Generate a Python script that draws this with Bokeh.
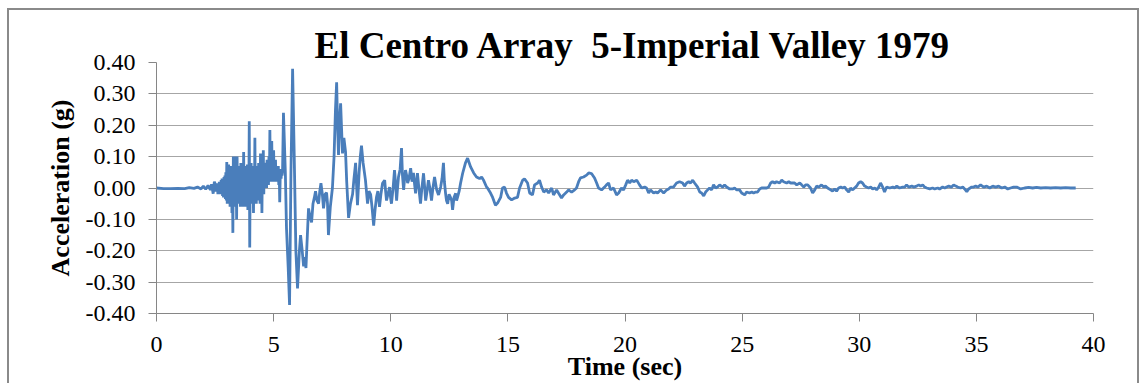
from bokeh.plotting import figure
from bokeh.models import FixedTicker, PrintfTickFormatter, Range1d
from bokeh.embed import file_html
from bokeh.resources import INLINE

# ---- data (time in s, acceleration in g) ----
t_quiet = [0.0, 0.3, 0.6, 0.9, 1.2, 1.4, 1.6, 1.75, 1.9, 2.0, 2.1, 2.2, 2.3, 2.35, 2.42, 2.47]
a_quiet = [0.0, -0.002, -0.002, -0.001, -0.002, 0.001, -0.001, 0.003, -0.003, 0.006, -0.004, 0.008,
           -0.006, 0.012, -0.018, 0.02]

# dense high-frequency burst, one reading every 0.02 s from 2.52 s
burst_start, burst_dt = 2.52, 0.02
a_burst = [0.01, -0.012, 0.012, -0.01, 0.015, -0.02, 0.015, -0.015, 0.02, -0.018,
           0.02, -0.02, 0.025, -0.02, 0.03, -0.025, 0.03, -0.03, 0.035, -0.03,
           0.04, -0.035, 0.05, -0.04, 0.083, -0.05, 0.06, -0.045, 0.075, -0.05,
           0.06, -0.06, 0.07, -0.05, 0.06, -0.08, 0.05, -0.143, 0.10, -0.05,
           0.085, -0.04, 0.10, -0.06, 0.07, -0.10, 0.10, -0.05, 0.065, -0.04,
           0.07, -0.05, 0.06, -0.06, 0.08, -0.04, 0.065, -0.05, 0.07, -0.06,
           0.115, -0.05, 0.06, -0.04, 0.07, -0.06, 0.06, -0.05, 0.075, -0.07,
           0.06, -0.05, 0.213, -0.19, 0.06, -0.04, 0.08, -0.05, 0.065, -0.04,
           0.07, -0.08, 0.06, -0.03, 0.16, -0.04, 0.06, -0.05, 0.07, -0.03,
           0.065, -0.04, 0.08, -0.03, 0.06, -0.05, 0.11, -0.03, 0.07, -0.08,
           0.06, -0.02, 0.12, -0.02, 0.07, 0.0, 0.08, 0.01, 0.07, 0.0,
           0.09, 0.02, 0.08, 0.01, 0.10, 0.02, 0.185, 0.03, 0.08, 0.02,
           0.15, 0.03, 0.08, 0.02, 0.12, 0.03, 0.07, 0.02, 0.09, 0.03,
           0.07, 0.02, 0.06, 0.02, 0.07, 0.01, 0.05, -0.045, 0.03, 0.06,
           0.03, 0.06, 0.04, 0.05]
t_burst = [round(burst_start + burst_dt * i, 3) for i in range(len(a_burst))]

t_strong = [5.42, 5.50, 5.55, 5.62, 5.68, 5.74, 5.81, 5.88, 5.95, 6.02, 6.10, 6.15, 6.22, 6.28, 6.33,
            6.38, 6.44, 6.49, 6.55, 6.62, 6.68, 6.74, 6.79, 6.85, 6.92, 6.97, 7.02, 7.08, 7.13, 7.20,
            7.26, 7.30, 7.34, 7.42, 7.51, 7.58, 7.64, 7.69, 7.73, 7.77, 7.82, 7.86, 7.90, 7.94, 8.00,
            8.07, 8.12, 8.20, 8.28, 8.37, 8.43, 8.50, 8.54, 8.58, 8.65, 8.70, 8.75, 8.82]
a_strong = [0.24, 0.05, -0.13, -0.25, -0.373, 0.05, 0.38, 0.10, -0.20, -0.32, -0.20, -0.15, -0.20,
            -0.25, -0.22, -0.255, -0.15, -0.065, -0.09, -0.11, -0.05, -0.03, -0.01, -0.04, -0.05,
            -0.01, 0.015, -0.02, -0.065, -0.02, -0.015, -0.05, -0.15, -0.06, 0.0, 0.10, 0.25, 0.337,
            0.20, 0.105, 0.22, 0.27, 0.19, 0.11, 0.16, 0.115, 0.02, -0.095, -0.05, -0.02, 0.03, 0.08,
            0.01, -0.055, 0.05, 0.10, 0.135, 0.08]

t_mid = [8.92, 9.01, 9.07, 9.14, 9.20, 9.27, 9.33, 9.39, 9.45, 9.52, 9.58, 9.65, 9.74, 9.78, 9.82,
         9.88, 9.95, 9.99, 10.03, 10.10, 10.16, 10.20, 10.25, 10.29, 10.33, 10.40, 10.46, 10.50,
         10.55, 10.59, 10.63, 10.68, 10.72, 10.78, 10.85, 10.91, 10.97, 11.02, 11.06, 11.10, 11.14,
         11.20, 11.27, 11.33, 11.40, 11.45, 11.49, 11.55, 11.61, 11.68, 11.74, 11.80, 11.87, 11.96,
         12.04, 12.13, 12.19, 12.25, 12.29, 12.34, 12.38, 12.43, 12.49, 12.55, 12.60, 12.64, 12.70,
         12.77, 12.81, 12.85, 12.92, 12.98, 13.07, 13.19, 13.28, 13.41, 13.54, 13.66, 13.79, 13.88,
         13.96, 14.09]
a_mid = [0.025, -0.05, -0.01, -0.02, -0.06, -0.12, -0.07, -0.03, -0.01, -0.06, -0.02, 0.015, 0.025,
         -0.01, -0.04, -0.02, 0.003, -0.03, -0.05, 0.0, 0.057, 0.02, -0.04, 0.0, 0.035, 0.06, 0.127,
         0.04, -0.006, 0.03, 0.057, 0.04, 0.016, 0.03, 0.063, 0.02, 0.048, 0.01, -0.017, 0.02, 0.047,
         0.0, -0.05, 0.0, 0.047, 0.0, -0.04, -0.01, 0.025, -0.005, -0.04, 0.0, 0.035, -0.006, -0.022,
         0.003, 0.03, 0.08, 0.02, -0.017, -0.04, -0.05, -0.02, -0.03, -0.04, -0.07, -0.03, -0.017,
         -0.04, -0.03, -0.01, 0.015, 0.047, 0.08, 0.095, 0.067, 0.048, 0.035, 0.03, 0.035, 0.025,
         0.003]

t_coda = [14.13, 14.26, 14.35, 14.47, 14.56, 14.69, 14.77, 14.86, 14.94, 15.03, 15.16, 15.29, 15.41,
          15.50, 15.63, 15.71, 15.84, 15.93, 16.05, 16.14, 16.27, 16.35, 16.44, 16.53, 16.65, 16.74,
          16.87, 16.95, 17.08, 17.16, 17.29, 17.38, 17.51, 17.59, 17.72, 17.85, 17.93, 18.02, 18.10,
          18.23, 18.36, 18.45, 18.57, 18.70, 18.79, 18.87, 19.00, 19.13, 19.21, 19.30, 19.38, 19.51,
          19.64, 19.73, 19.85, 19.94, 20.03, 20.11, 20.20, 20.28, 20.37, 20.50, 20.62, 20.71, 20.84,
          20.92, 21.01, 21.09, 21.22, 21.31, 21.39, 21.52, 21.65, 21.78, 21.86, 21.95, 22.07, 22.20,
          22.33]
a_coda = [0.0, -0.016, -0.03, -0.055, -0.048, -0.03, 0.0, 0.003, -0.016, -0.03, -0.038, -0.032,
          -0.03, 0.0, 0.025, 0.029, 0.016, -0.016, -0.022, 0.01, 0.016, 0.025, 0.003, -0.013, -0.006,
          -0.016, 0.0, -0.022, -0.006, -0.016, -0.032, -0.022, -0.013, -0.006, -0.013, -0.006, 0.0,
          0.02, 0.032, 0.035, 0.041, 0.048, 0.046, 0.032, 0.016, 0.0, -0.006, 0.003, 0.01, 0.016,
          -0.006, 0.0, -0.022, -0.016, 0.0, -0.006, 0.01, 0.025, 0.016, 0.025, 0.02, 0.025, 0.01, 0.0,
          0.003, 0.0, -0.016, -0.006, -0.016, -0.013, -0.016, -0.006, -0.016, -0.006, -0.003, 0.003,
          0.003, 0.016, 0.02]

t_late = [22.46, 22.54, 22.63, 22.72, 22.80, 22.89, 22.97, 23.10, 23.19, 23.27, 23.36, 23.44, 23.53,
          23.61, 23.70, 23.78, 23.87, 23.95, 24.04, 24.17, 24.25, 24.34, 24.47, 24.59, 24.68, 24.76,
          24.89, 24.98, 25.11, 25.19, 25.32, 25.41, 25.49, 25.58, 25.66, 25.75, 25.83, 25.96, 26.05,
          26.13, 26.22, 26.30, 26.39, 26.47, 26.60, 26.69, 26.77, 26.90, 26.99, 27.07, 27.16, 27.24,
          27.33, 27.46, 27.54, 27.63, 27.71, 27.80, 27.92, 28.01, 28.10, 28.18, 28.27, 28.39, 28.48,
          28.56, 28.65, 28.78, 28.86, 28.95, 29.03, 29.12, 29.21, 29.29, 29.38, 29.46, 29.55, 29.63,
          29.72, 29.80, 29.89, 29.97, 30.06, 30.14, 30.23, 30.31, 30.40, 30.49, 30.57, 30.66, 30.74,
          30.83, 30.91, 31.00, 31.08, 31.17, 31.30]
a_late = [0.016, 0.006, 0.016, 0.02, 0.016, 0.025, 0.016, 0.003, -0.013, -0.016, -0.025, -0.013,
          -0.006, 0.0, -0.006, 0.01, 0.0, 0.003, 0.01, 0.003, 0.01, 0.003, -0.003, -0.003, 0.0,
          -0.006, -0.006, -0.016, -0.022, -0.013, -0.016, -0.013, -0.016, -0.013, -0.013, -0.003, 0.0,
          0.0, 0.0, 0.003, 0.016, 0.02, 0.016, 0.02, 0.016, 0.025, 0.02, 0.016, 0.02, 0.016, 0.016,
          0.016, 0.01, 0.016, 0.01, 0.003, 0.01, 0.01, 0.0, -0.016, -0.006, 0.006, 0.003, 0.01, 0.003,
          0.006, 0.0, -0.006, -0.01, -0.003, -0.01, 0.0, 0.003, 0.0, 0.003, -0.006, -0.013, 0.0,
          -0.006, 0.0, 0.006, 0.016, 0.02, 0.016, 0.006, 0.003, 0.0, 0.003, -0.003, 0.0, -0.006,
          0.003, 0.016, 0.003, -0.013, 0.003, 0.0]

t_tail = [31.43, 31.51, 31.60, 31.72, 31.85, 31.94, 32.02, 32.11, 32.24, 32.32, 32.45, 32.54, 32.62,
          32.71, 32.79, 32.88, 33.01, 33.13, 33.22, 33.35, 33.43, 33.56, 33.65, 33.73, 33.82, 33.94,
          34.03, 34.12, 34.20, 34.33, 34.42, 34.50, 34.59, 34.67, 34.80, 34.88, 34.97, 35.06, 35.18,
          35.31, 35.44, 35.57, 35.70, 35.82, 35.95, 36.08, 36.21, 36.34, 36.46, 36.59, 36.72, 36.89,
          37.06, 37.23, 37.40, 37.57, 37.75, 37.96, 38.17, 38.38, 38.60, 38.81, 39.03, 39.24]
a_tail = [0.003, 0.0, 0.006, 0.0, 0.003, 0.003, 0.01, 0.003, 0.006, 0.003, 0.006, 0.01, 0.006, 0.01,
          0.003, 0.0, -0.003, 0.0, -0.003, 0.0, -0.003, 0.003, 0.0, 0.003, 0.006, 0.003, 0.01, 0.006,
          0.003, 0.0, 0.003, -0.003, -0.012, -0.003, 0.003, 0.003, 0.006, 0.003, 0.01, 0.003, 0.006,
          0.0, 0.006, 0.003, 0.006, 0.0, 0.003, -0.003, 0.0, 0.003, 0.003, -0.003, 0.0, 0.002, 0.0,
          0.002, 0.0, 0.001, 0.0, 0.001, 0.0, 0.001, 0.0, 0.0]

x_ticks = [0, 5, 10, 15, 20, 25, 30, 35, 40]
y_ticks = [-0.4, -0.3, -0.2, -0.1, 0.0, 0.1, 0.2, 0.3, 0.4]
title_text = "El Centro Array \u00a05-Imperial Valley 1979"
x_label = "Time (sec)"
y_label = "Acceleration (g)"

time_s = t_quiet + t_burst + t_strong + t_mid + t_coda + t_late + t_tail
accel_g = a_quiet + a_burst + a_strong + a_mid + a_coda + a_late + a_tail

SERIF = "Liberation Serif"
GRID = "#a6a6a6"
AXIS = "#868686"
EDGE = "#8a8a8a"

p = figure(width=1145, height=383, output_backend="svg", toolbar_location=None,
           x_range=Range1d(0, 40), y_range=Range1d(-0.4, 0.4),
           min_border_left=156, min_border_right=52, min_border_top=62, min_border_bottom=70)
p.background_fill_color = "white"
p.border_fill_color = None
p.outline_line_color = None

# outer chart-area border (top, left, right), drawn behind the transparent canvas
p.styles = {
    "box-shadow": (f"inset 7px 0 0 0 white, inset 0 8px 0 0 white, inset -6px 0 0 0 white, "
                   f"inset 9px 0 0 0 {EDGE}, inset 0 10px 0 0 {EDGE}, inset -8px 0 0 0 {EDGE}"),
    "background-color": "white",
}

p.title.text = title_text
p.title.text_font = SERIF
p.title.text_font_style = "bold"
p.title.text_font_size = "37px"
p.title.text_color = "black"
p.title.align = "left"
p.title.standoff = -7
p.title.offset = 158

p.line(time_s, accel_g, line_color="#4a7ebb", line_width=2.8)

p.xaxis.ticker = FixedTicker(ticks=x_ticks)
p.yaxis.ticker = FixedTicker(ticks=y_ticks)
p.yaxis.formatter = PrintfTickFormatter(format="%.2f")

for ax in (p.xaxis[0], p.yaxis[0]):
    ax.axis_line_color = AXIS
    ax.axis_line_width = 1
    ax.major_tick_line_color = AXIS
    ax.major_tick_in = 0
    ax.major_tick_out = 8
    ax.minor_tick_line_color = None
    ax.major_label_text_font = SERIF
    ax.major_label_text_font_size = "24px"
    ax.major_label_text_color = "black"
    ax.axis_label_text_font = SERIF
    ax.axis_label_text_font_style = "bold"
    ax.axis_label_text_font_size = "26px"
    ax.axis_label_text_color = "black"

p.xaxis.axis_label = x_label
p.yaxis.axis_label = y_label
p.xaxis.major_label_standoff = 15
p.xaxis.axis_label_standoff = -3
p.yaxis.major_label_standoff = 13
p.yaxis.axis_label_standoff = 8

p.xgrid.grid_line_color = None
p.ygrid.grid_line_color = GRID
p.ygrid.grid_line_width = 1

open("out.html", "w").write(file_html(p, INLINE))
